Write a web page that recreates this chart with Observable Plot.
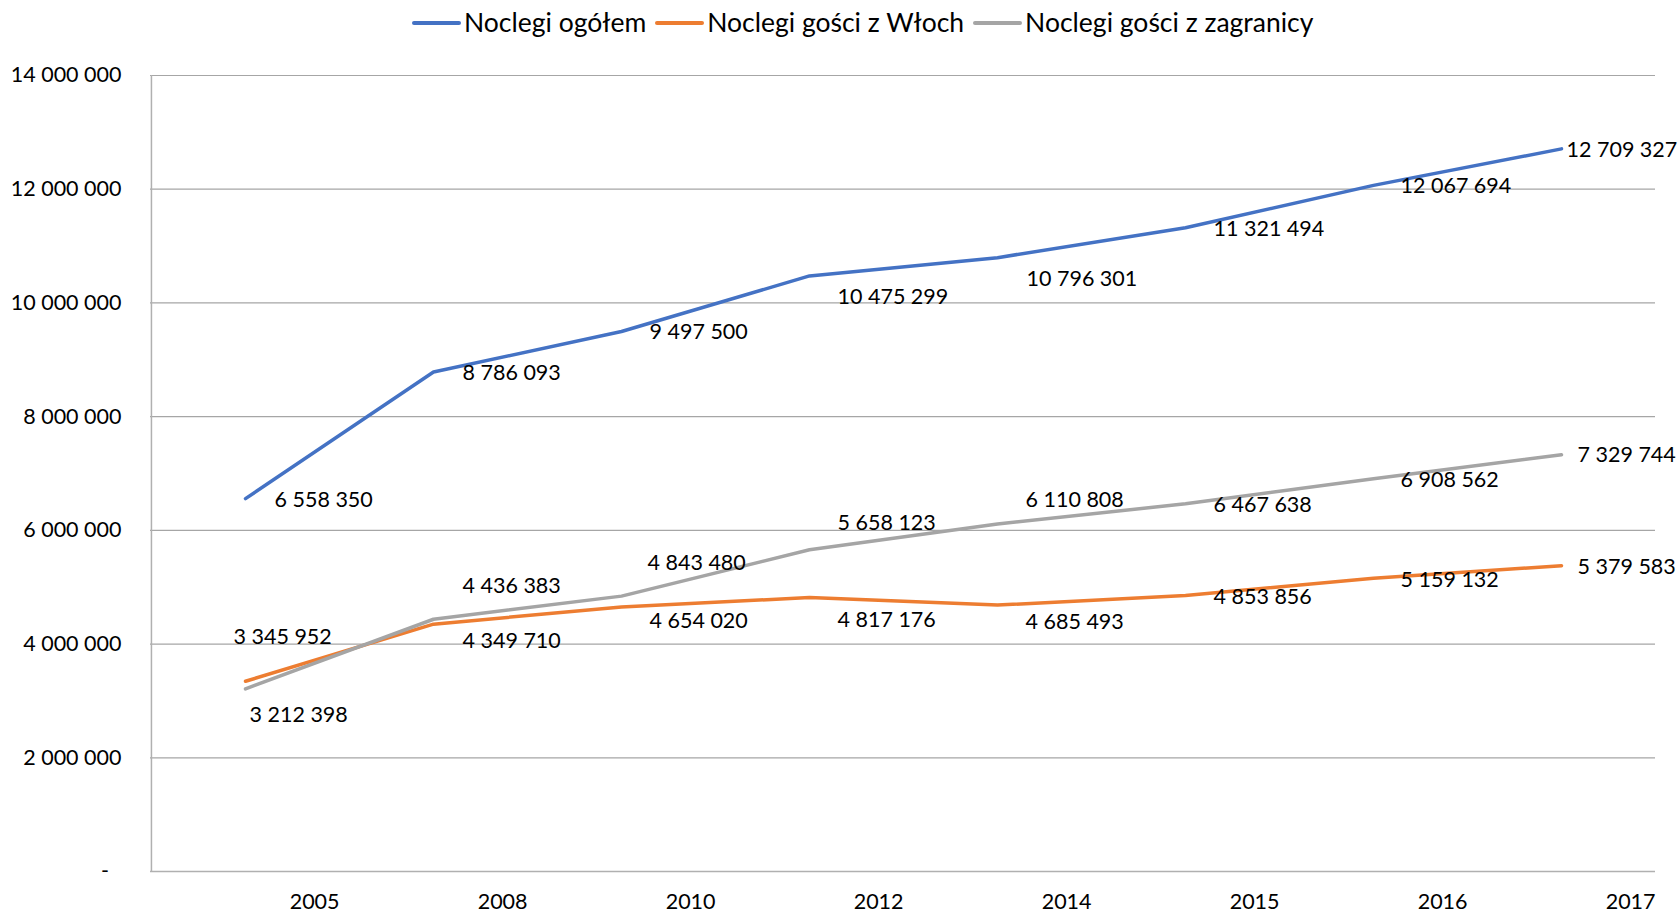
<!DOCTYPE html>
<html>
<head>
<meta charset="utf-8">
<script src="https://cdn.jsdelivr.net/npm/d3@7"></script>
<script src="https://cdn.jsdelivr.net/npm/@observablehq/plot@0.6"></script>
<style>
  html, body { margin: 0; padding: 0; background: #fff; }
  #wrap { width: 1680px; height: 913px; position: relative; overflow: hidden; font-family: "Lato", sans-serif; color: #000; }
  #legend { height: 45px; box-sizing: border-box; padding-left: 412px; padding-top: 7px; display: flex; align-items: flex-start; font-size: 26.5px; line-height: 1.2; white-space: nowrap; }
  .item { display: flex; align-items: flex-start; margin-right: 9px; }
  .sw { width: 49px; height: 4px; margin-top: 14px; margin-right: 3px; border-radius: 2px; }
</style>
</head>
<body>
<div id="wrap">
  <div id="legend"></div>
  <div id="chart"></div>
</div>
<script>
// ---- data ----
const years = ["2005", "2008", "2010", "2012", "2014", "2015", "2016", "2017"];
const seriesNames = ["Noclegi ogółem", "Noclegi gości z Włoch", "Noclegi gości z zagranicy"];
const seriesColors = ["#4472C4", "#ED7D31", "#A5A5A5"];
const noclegiOgolem = [6558350, 8786093, 9497500, 10475299, 10796301, 11321494, 12067694, 12709327];
const noclegiWlochy = [3345952, 4349710, 4654020, 4817176, 4685493, 4853856, 5159132, 5379583];
const noclegiZagranica = [3212398, 4436383, 4843480, 5658123, 6110808, 6467638, 6908562, 7329744];
const yTicks = [0, 2000000, 4000000, 6000000, 8000000, 10000000, 12000000, 14000000];

// label nudges [dx, dy] in px (manual label placement in the original)
const nudgeOgolem = [[29,1],[29,1],[28,1],[28,21],[29,21],[28,1],[27,1],[5,1]];
const nudgeWlochy = [[-12,-44],[29,17],[28,14],[28,23],[28,17],[28,2],[27,2],[16,1]];
const nudgeZagranica = [[4,26],[29,-33],[26,-33],[28,-27],[28,-24],[28,1],[27,1],[16,0]];

// ---- build table ----
const seriesValues = [noclegiOgolem, noclegiWlochy, noclegiZagranica];
const nudges = [nudgeOgolem, nudgeWlochy, nudgeZagranica];
const rows = [];
seriesValues.forEach((vals, s) => vals.forEach((v, i) => rows.push({series: seriesNames[s], year: years[i], value: v, nudge: nudges[s][i]})));

const fmt = (d) => d3.format(",")(d).replace(/,/g, " ");

// ---- legend ----
const legend = document.getElementById("legend");
seriesNames.forEach((name, i) => {
  const it = document.createElement("div");
  it.className = "item";
  const sw = document.createElement("span");
  sw.className = "sw";
  sw.style.background = seriesColors[i];
  const tx = document.createElement("span");
  tx.textContent = name;
  it.appendChild(sw); it.appendChild(tx);
  legend.appendChild(it);
});

// ---- chart ----
const W = 1680, H = 868, mL = 150, mR = 25, mT = 30, mB = 42;
const step = (W - mL - mR) / years.length;

const labelMarks = rows.map(r => Plot.text([r], {
  x: "year", y: "value", text: d => fmt(d.value),
  dx: r.nudge[0], dy: r.nudge[1],
  textAnchor: "start", lineAnchor: "middle", fill: "#000"
}));

const chart = Plot.plot({
  width: W, height: H,
  marginLeft: mL, marginRight: mR, marginTop: mT, marginBottom: mB,
  style: {fontFamily: "Lato, sans-serif", fontSize: "21.5px", color: "#000", background: "#fff", overflow: "visible"},
  x: {type: "point", domain: years, padding: 0.5, align: 0.5},
  y: {domain: [0, 14000000]},
  color: {domain: seriesNames, range: seriesColors},
  marks: [
    Plot.gridY(yTicks, {stroke: "#a6a6a6", strokeOpacity: 1, strokeWidth: 1.2}),
    Plot.ruleY([0], {stroke: "#b0b0b0", strokeWidth: 1.5}),
    Plot.ruleX([years[0]], {dx: -step / 2, y1: 0, y2: 14000000, stroke: "#b0b0b0", strokeWidth: 1.5}),
    Plot.axisY(yTicks, {tickSize: 0, tickPadding: 29, tickFormat: d => d === 0 ? "-\u2007" : fmt(d), label: null, fill: "#000"}),
    Plot.axisX(years, {tickSize: 0, tickPadding: 22, textAnchor: "end", dx: step / 2, label: null, fill: "#000"}),
    Plot.line(rows, {x: "year", y: "value", z: "series", stroke: "series", strokeWidth: 3.5, strokeLinejoin: "round", strokeLinecap: "round"}),
    ...labelMarks
  ]
});
document.getElementById("chart").appendChild(chart);
</script>
</body>
</html>
